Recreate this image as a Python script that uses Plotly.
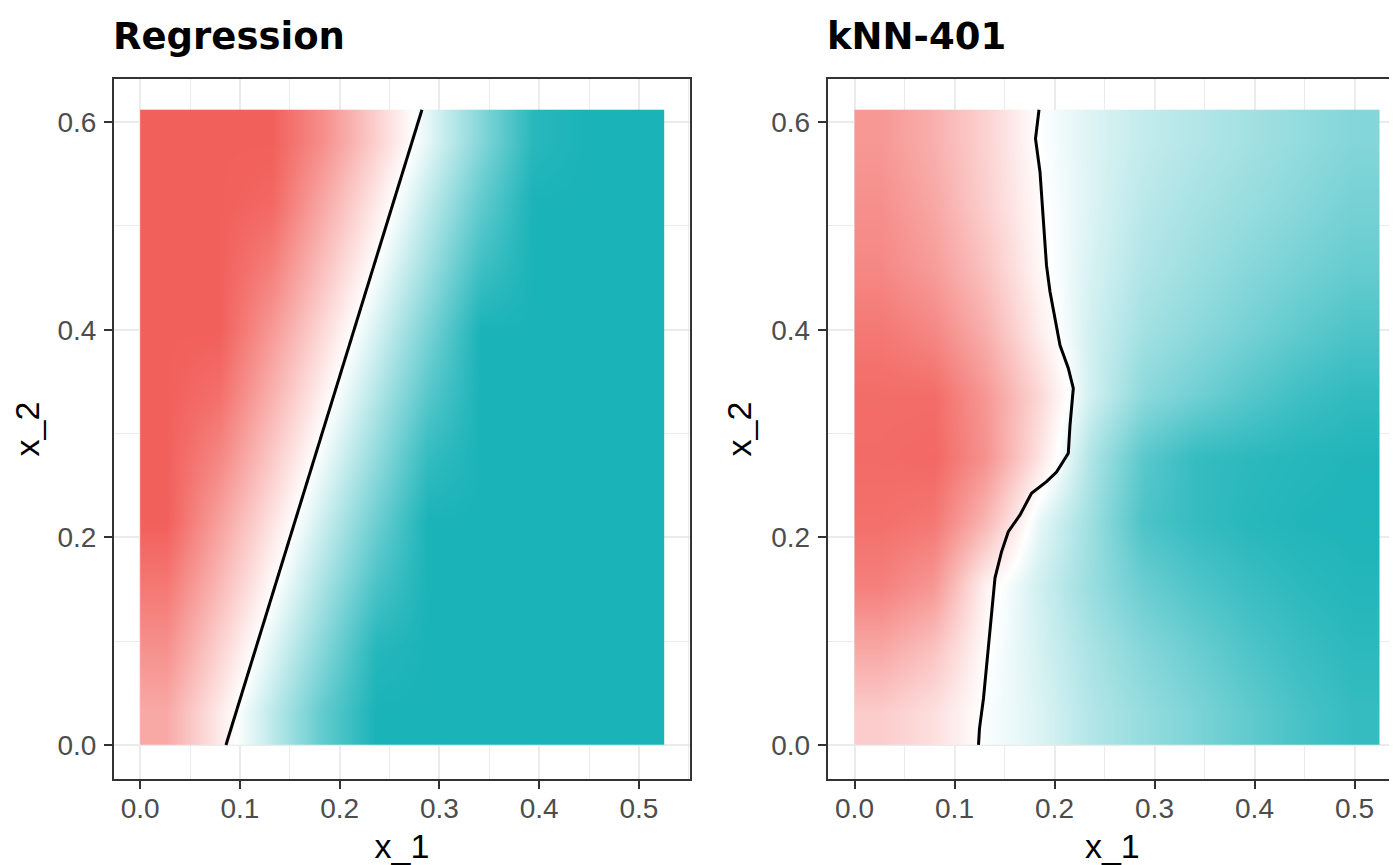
import plotly.graph_objects as go

# ---------------- data ----------------
# grid cell centres in data units (both panels share the same grid)
x_centres = [0.02625, 0.07875, 0.13125, 0.18375, 0.23625,
             0.28875, 0.34125, 0.39375, 0.44625, 0.49875]
y_centres = [0.0306, 0.0918, 0.1530, 0.2142, 0.2754,
             0.3366, 0.3978, 0.4590, 0.5202, 0.5814]

# class score: -1 = full red class, 0 = boundary (white), +1 = full teal class
# rows run bottom -> top, columns left -> right
regression_z = [
    [-0.54, -0.13,  0.28,  0.69,  1.00, 1.00, 1.00, 1.00, 1.00, 1.00],
    [-0.69, -0.28,  0.13,  0.54,  0.95, 1.00, 1.00, 1.00, 1.00, 1.00],
    [-0.85, -0.44, -0.03,  0.38,  0.79, 1.00, 1.00, 1.00, 1.00, 1.00],
    [-1.00, -0.59, -0.18,  0.23,  0.64, 1.00, 1.00, 1.00, 1.00, 1.00],
    [-1.00, -0.75, -0.34,  0.07,  0.48, 0.89, 1.00, 1.00, 1.00, 1.00],
    [-1.00, -0.90, -0.49, -0.08,  0.33, 0.74, 1.00, 1.00, 1.00, 1.00],
    [-1.00, -1.00, -0.64, -0.23,  0.18, 0.59, 1.00, 1.00, 1.00, 1.00],
    [-1.00, -1.00, -0.80, -0.39,  0.02, 0.43, 0.84, 1.00, 1.00, 1.00],
    [-1.00, -1.00, -0.95, -0.54, -0.13, 0.28, 0.69, 1.00, 1.00, 1.00],
    [-1.00, -1.00, -1.00, -0.70, -0.29, 0.12, 0.53, 0.94, 1.00, 1.00],
]

knn_z = [
    [-0.32, -0.20,  0.02,  0.15, 0.33, 0.46, 0.57, 0.69, 0.80, 0.88],
    [-0.55, -0.38, -0.02,  0.18, 0.37, 0.53, 0.65, 0.77, 0.86, 0.92],
    [-0.80, -0.65, -0.08,  0.20, 0.44, 0.65, 0.77, 0.86, 0.92, 0.96],
    [-0.90, -0.85, -0.45,  0.10, 0.42, 0.78, 0.88, 0.94, 0.97, 0.98],
    [-0.93, -0.95, -0.68, -0.18, 0.35, 0.72, 0.88, 0.92, 0.95, 0.97],
    [-0.92, -0.92, -0.65, -0.25, 0.20, 0.50, 0.62, 0.74, 0.84, 0.90],
    [-0.85, -0.75, -0.50, -0.12, 0.20, 0.40, 0.50, 0.60, 0.70, 0.78],
    [-0.75, -0.62, -0.38, -0.05, 0.17, 0.34, 0.43, 0.52, 0.60, 0.67],
    [-0.70, -0.55, -0.30, -0.03, 0.15, 0.30, 0.38, 0.45, 0.52, 0.60],
    [-0.65, -0.50, -0.28,  0.00, 0.15, 0.26, 0.33, 0.40, 0.47, 0.54],
]

# decision boundaries
regression_boundary_x = [0.086, 0.2825]
regression_boundary_y = [0.0, 0.612]

knn_boundary_x = [0.124, 0.125, 0.129, 0.132, 0.1355, 0.138, 0.1405, 0.147,
                  0.1538, 0.1655, 0.177, 0.192, 0.202, 0.2138, 0.2155, 0.2188,
                  0.2138, 0.2055, 0.2005, 0.1955, 0.192, 0.1895, 0.188, 0.1855,
                  0.181, 0.1845]
knn_boundary_y = [0.0, 0.016, 0.045, 0.077, 0.109, 0.135, 0.161, 0.186,
                  0.2055, 0.2216, 0.2425, 0.2537, 0.263, 0.281, 0.308, 0.3436,
                  0.363, 0.385, 0.411, 0.4367, 0.462, 0.4945, 0.520, 0.552,
                  0.584, 0.612]

panel_titles = ["Regression", "kNN-401"]
x_label = "x_1"
y_label = "x_2"

# ---------------- styling ----------------
RED = "#F2605B"
TEAL = "#1AB3B8"
colorscale = [[0.0, RED], [0.5, "#FFFFFF"], [1.0, TEAL]]

# the page body adds an 8 px margin, so the figure is 8 px smaller and all
# positions below are given in page pixels minus that offset
OFF = 8
W, H = 1397 - OFF, 865 - OFF
FONT = "Liberation Sans, Arial, Helvetica, sans-serif"
TITLE_FONT = "DejaVu Sans, Liberation Sans, sans-serif"

def px_x(p):
    return (p - OFF) / W

def px_y(p):  # page pixel from top -> paper fraction from bottom
    return (H - (p - OFF)) / H

y_domain = [px_y(779), px_y(79)]
left_domain = [px_x(114), px_x(690)]
right_domain = [px_x(827.7), 1.0]

fig = go.Figure()

fig.add_trace(go.Heatmap(
    x=x_centres, y=y_centres, z=regression_z, zmin=-1, zmax=1,
    zsmooth="best", colorscale=colorscale, showscale=False,
    xaxis="x", yaxis="y", hoverinfo="skip"))
fig.add_trace(go.Scatter(
    x=regression_boundary_x, y=regression_boundary_y, mode="lines",
    line=dict(color="black", width=3), showlegend=False,
    xaxis="x", yaxis="y", hoverinfo="skip"))

fig.add_trace(go.Heatmap(
    x=x_centres, y=y_centres, z=knn_z, zmin=-1, zmax=1,
    zsmooth="best", colorscale=colorscale, showscale=False,
    xaxis="x2", yaxis="y2", hoverinfo="skip"))
fig.add_trace(go.Scatter(
    x=knn_boundary_x, y=knn_boundary_y, mode="lines",
    line=dict(color="black", width=3), showlegend=False,
    xaxis="x2", yaxis="y2", hoverinfo="skip"))

GRID = "#EBEBEB"
tickfont = dict(family=FONT, size=28, color="#4D4D4D")
titlefont = dict(family=FONT, size=34, color="#000000")

def xaxis(domain, rng, anchor):
    return dict(
        domain=domain, range=rng, anchor=anchor,
        tick0=0, dtick=0.1, tickformat=".1f",
        showgrid=True, gridcolor=GRID, gridwidth=1.8,
        minor=dict(dtick=0.05, tick0=0, showgrid=True, gridcolor=GRID, gridwidth=1),
        zeroline=False, showline=True, linecolor="#333333", linewidth=2,
        mirror=True, ticks="outside", ticklen=8, tickwidth=2,
        tickcolor="#333333", tickfont=tickfont, ticklabelstandoff=-5,
        title=dict(text=x_label, font=titlefont, standoff=16),
        fixedrange=True)

def yaxis(domain, anchor, mirror):
    return dict(
        domain=domain, range=[-0.0328, 0.6416], anchor=anchor,
        tick0=0, dtick=0.2, tickformat=".1f",
        showgrid=True, gridcolor=GRID, gridwidth=1.8,
        minor=dict(dtick=0.1, tick0=0, showgrid=True, gridcolor=GRID, gridwidth=1),
        zeroline=False, showline=True, linecolor="#333333", linewidth=2,
        mirror=mirror, ticks="outside", ticklen=8, tickwidth=2,
        tickcolor="#333333", tickfont=tickfont, ticklabelstandoff=2,
        title=dict(text=y_label, font=titlefont, standoff=9),
        fixedrange=True)

fig.update_layout(
    width=W, height=H,
    margin=dict(l=0, r=0, t=0, b=0),
    paper_bgcolor="white", plot_bgcolor="white",
    showlegend=False,
    font=dict(family=FONT),
    xaxis=xaxis(left_domain, [-0.02625, 0.55125], "y"),
    yaxis=yaxis(y_domain, "x", True),
    xaxis2=xaxis(right_domain, [-0.0268, 0.5425], "y2"),
    yaxis2=yaxis(y_domain, "x2", False),
    annotations=[
        dict(text="<b>%s</b>" % panel_titles[0], xref="paper", yref="paper",
             x=px_x(111), y=px_y(60), xanchor="left", yanchor="bottom",
             showarrow=False, font=dict(family=TITLE_FONT, size=37, color="black")),
        dict(text="<b>%s</b>" % panel_titles[1], xref="paper", yref="paper",
             x=px_x(825), y=px_y(60), xanchor="left", yanchor="bottom",
             showarrow=False, font=dict(family=TITLE_FONT, size=37, color="black")),
    ],
)

fig.write_html("out.html")
